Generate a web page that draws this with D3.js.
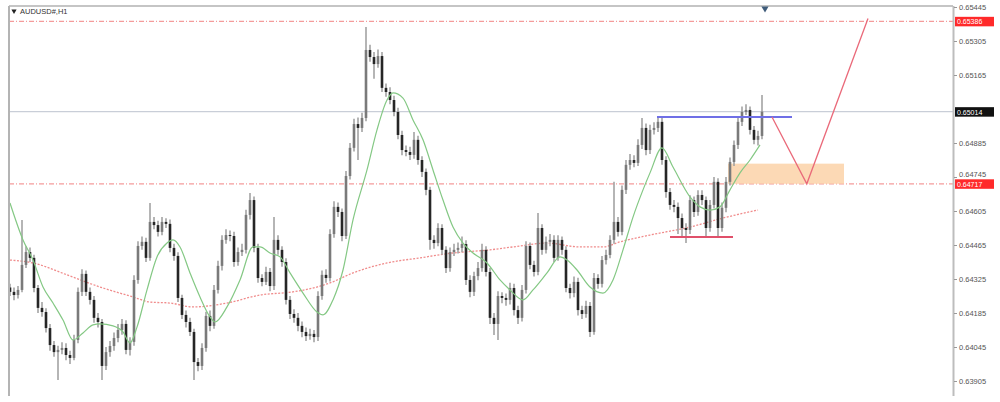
<!DOCTYPE html>
<html><head><meta charset="utf-8">
<script src="https://cdn.jsdelivr.net/npm/d3@7"></script>
<style>html,body{margin:0;padding:0;background:#fff;}svg{display:block;font-family:"Liberation Sans",Arial,sans-serif;}</style>
</head><body><svg id="c" width="1000" height="402"></svg>
<script>
const symbolTitle = "AUDUSD#,H1";
const opens = [
0.64290,0.64272,0.64259,0.64280,0.64383,0.64436,0.64412,0.64288,0.64206,0.64189,
0.64123,0.64053,0.64024,0.64033,0.64041,0.64012,0.64000,0.64074,0.64272,0.64346,
0.64272,0.64239,0.64165,0.64148,0.63967,0.64024,0.64049,0.64082,0.64115,0.64140,
0.64033,0.64066,0.64321,0.64461,0.64478,0.64412,0.64560,0.64547,0.64519,0.64560,
0.64552,0.64453,0.64420,0.64247,0.64177,0.64148,0.64107,0.63983,0.63967,0.64041,
0.64173,0.64132,0.64280,0.64379,0.64486,0.64506,0.64502,0.64395,0.64436,0.64445,
0.64589,0.64650,0.64453,0.64329,0.64313,0.64354,0.64296,0.64486,0.64445,0.64395,
0.64239,0.64181,0.64165,0.64132,0.64107,0.64090,0.64099,0.64086,0.64255,0.64342,
0.64329,0.64510,0.64622,0.64601,0.64502,0.64749,0.64865,0.64963,0.64947,0.64988,
0.65268,0.65239,0.65210,0.65243,0.65112,0.65095,0.65062,0.65013,0.64918,0.64856,
0.64848,0.64836,0.64898,0.64815,0.64766,0.64692,0.64486,0.64473,0.64535,0.64445,
0.64370,0.64436,0.64445,0.64453,0.64469,0.64321,0.64272,0.64337,0.64370,0.64445,
0.64354,0.64165,0.64140,0.64255,0.64247,0.64239,0.64288,0.64197,0.64165,0.64280,
0.64461,0.64383,0.64354,0.64535,0.64445,0.64478,0.64486,0.64412,0.64486,0.64445,
0.64288,0.64267,0.64313,0.64197,0.64181,0.64214,0.64107,0.64329,0.64305,0.64403,
0.64424,0.64486,0.64560,0.64519,0.64692,0.64795,0.64815,0.64803,0.64877,0.64947,
0.64856,0.64939,0.64947,0.64972,0.64815,0.64683,0.64630,0.64622,0.64576,0.64535,
0.64527,0.64650,0.64601,0.64671,0.64650,0.64535,0.64630,0.64725,0.64535,0.64618,
0.64725,0.64807,0.64877,0.64972,0.65013,0.65021,0.64939,0.64898,0.64914];
const highs = [
0.64305,0.64290,0.64296,0.64568,0.64460,0.64455,0.64425,0.64300,0.64230,0.64205,
0.64140,0.64070,0.64050,0.64065,0.64060,0.64030,0.64095,0.64290,0.64365,0.64360,
0.64290,0.64255,0.64185,0.64160,0.64045,0.64070,0.64105,0.64140,0.64160,0.64155,
0.64085,0.64340,0.64480,0.64500,0.64495,0.64638,0.64580,0.64565,0.64580,0.64575,
0.64570,0.64470,0.64435,0.64260,0.64195,0.64165,0.64120,0.64000,0.64060,0.64190,
0.64195,0.64300,0.64400,0.64505,0.64530,0.64525,0.64520,0.64455,0.64470,0.64610,
0.64679,0.64665,0.64470,0.64345,0.64375,0.64370,0.64580,0.64505,0.64460,0.64410,
0.64255,0.64200,0.64185,0.64150,0.64125,0.64120,0.64115,0.64275,0.64360,0.64365,
0.64530,0.64645,0.64640,0.64615,0.64770,0.64885,0.64985,0.64990,0.65010,0.65363,
0.65290,0.65260,0.65270,0.65260,0.65130,0.65115,0.65080,0.65030,0.64935,0.64875,
0.64870,0.64930,0.64915,0.64830,0.64780,0.64705,0.64505,0.64555,0.64550,0.64460,
0.64455,0.64470,0.64475,0.64500,0.64485,0.64340,0.64355,0.64395,0.64470,0.64460,
0.64370,0.64185,0.64275,0.64270,0.64265,0.64310,0.64305,0.64215,0.64300,0.64480,
0.64475,0.64400,0.64597,0.64550,0.64500,0.64510,0.64505,0.64505,0.64500,0.64460,
0.64305,0.64335,0.64330,0.64215,0.64235,0.64230,0.64350,0.64345,0.64420,0.64445,
0.64505,0.64725,0.64580,0.64710,0.64815,0.64840,0.64835,0.64900,0.64988,0.64965,
0.64960,0.64970,0.64995,0.64990,0.64830,0.64700,0.64650,0.64640,0.64595,0.64555,
0.64670,0.64665,0.64690,0.64690,0.64665,0.64650,0.64745,0.64740,0.64640,0.64745,
0.64825,0.64895,0.64990,0.65035,0.65045,0.65035,0.64955,0.64935,0.65083];
const lows = [
0.64255,0.64238,0.64245,0.64270,0.64370,0.64395,0.64270,0.64185,0.64170,0.64105,
0.64030,0.64005,0.63909,0.64015,0.63990,0.63975,0.63990,0.64060,0.64255,0.64255,
0.64220,0.64145,0.64125,0.63909,0.63950,0.64005,0.64030,0.64065,0.64095,0.64015,
0.64010,0.64050,0.64305,0.64445,0.64395,0.64400,0.64530,0.64500,0.64505,0.64535,
0.64435,0.64400,0.64230,0.64160,0.64125,0.64090,0.63909,0.63945,0.63950,0.64025,
0.64110,0.64120,0.64265,0.64360,0.64470,0.64480,0.64375,0.64380,0.64420,0.64430,
0.64570,0.64435,0.64310,0.64295,0.64300,0.64275,0.64280,0.64425,0.64375,0.64220,
0.64160,0.64145,0.64110,0.64085,0.64070,0.64075,0.64065,0.64070,0.64240,0.64310,
0.64315,0.64495,0.64580,0.64480,0.64490,0.64735,0.64850,0.64815,0.64930,0.64975,
0.65220,0.65150,0.65195,0.65095,0.65075,0.65045,0.64995,0.64900,0.64835,0.64830,
0.64815,0.64820,0.64795,0.64745,0.64670,0.64445,0.64450,0.64460,0.64425,0.64350,
0.64355,0.64420,0.64430,0.64435,0.64300,0.64250,0.64255,0.64320,0.64355,0.64335,
0.64140,0.64094,0.64074,0.64225,0.64215,0.64220,0.64175,0.64140,0.64150,0.64265,
0.64365,0.64335,0.64340,0.64425,0.64430,0.64460,0.64395,0.64400,0.64425,0.64270,
0.64245,0.64250,0.64175,0.64160,0.64165,0.64086,0.64095,0.64285,0.64290,0.64385,
0.64410,0.64470,0.64500,0.64505,0.64675,0.64775,0.64785,0.64790,0.64860,0.64835,
0.64840,0.64920,0.64930,0.64795,0.64660,0.64610,0.64600,0.64510,0.64500,0.64473,
0.64510,0.64580,0.64585,0.64630,0.64498,0.64520,0.64615,0.64498,0.64520,0.64600,
0.64710,0.64790,0.64860,0.64955,0.65000,0.64920,0.64880,0.64875,0.64900];
const closes = [
0.64272,0.64259,0.64280,0.64383,0.64436,0.64412,0.64288,0.64206,0.64189,0.64123,
0.64053,0.64024,0.64033,0.64041,0.64012,0.64000,0.64074,0.64272,0.64346,0.64272,
0.64239,0.64165,0.64148,0.63967,0.64024,0.64049,0.64082,0.64115,0.64140,0.64033,
0.64066,0.64321,0.64461,0.64478,0.64412,0.64560,0.64547,0.64519,0.64560,0.64552,
0.64453,0.64420,0.64247,0.64177,0.64148,0.64107,0.63983,0.63967,0.64041,0.64173,
0.64132,0.64280,0.64379,0.64486,0.64506,0.64502,0.64395,0.64436,0.64445,0.64589,
0.64650,0.64453,0.64329,0.64313,0.64354,0.64296,0.64486,0.64445,0.64395,0.64239,
0.64181,0.64165,0.64132,0.64107,0.64090,0.64099,0.64086,0.64255,0.64342,0.64329,
0.64510,0.64622,0.64601,0.64502,0.64749,0.64865,0.64963,0.64947,0.64988,0.65268,
0.65239,0.65210,0.65243,0.65112,0.65095,0.65062,0.65013,0.64918,0.64856,0.64848,
0.64836,0.64898,0.64815,0.64766,0.64692,0.64486,0.64473,0.64535,0.64445,0.64370,
0.64436,0.64445,0.64453,0.64469,0.64321,0.64272,0.64337,0.64370,0.64445,0.64354,
0.64165,0.64140,0.64255,0.64247,0.64239,0.64288,0.64197,0.64165,0.64280,0.64461,
0.64383,0.64354,0.64535,0.64445,0.64478,0.64486,0.64412,0.64486,0.64445,0.64288,
0.64267,0.64313,0.64197,0.64181,0.64214,0.64107,0.64329,0.64305,0.64403,0.64424,
0.64486,0.64560,0.64519,0.64692,0.64795,0.64815,0.64803,0.64877,0.64947,0.64856,
0.64939,0.64947,0.64972,0.64815,0.64683,0.64630,0.64622,0.64576,0.64535,0.64527,
0.64650,0.64601,0.64671,0.64650,0.64535,0.64630,0.64725,0.64535,0.64618,0.64725,
0.64807,0.64877,0.64972,0.65013,0.65021,0.64939,0.64898,0.64914,0.65014];

// fast MA (green) : bar positions and values
const maFastBar = [0,3.25,5.75,8.25,10.75,13.25,15.75,18.25,20.75,22.5,25.75,28.25,30,31.75,34.25,36.75,39.25,40.75,42.5,45,47.5,50,51.25,54.25,57.5,60.75,62.5,65,67.5,70,73.25,76.75,78.25,80.75,83.25,85.75,89.25,91.75,94.25,95.75,98.25,100.75,103.25,105.75,108.25,110.75,113.25,115.75,119.25,122.5,125,128.25,130.75,134.25,137.5,139.25,141.75,145,148.25,150.75,153.25,155.75,158.25,160,163,165.75,170,172.5,175,177.5,180,182.5,185,187.5];
const maFastVal = [0.64638,0.64486,0.64403,0.64292,0.64226,0.64156,0.64074,0.64103,0.64136,0.64140,0.64132,0.64107,0.64062,0.64127,0.64280,0.64416,0.64473,0.64486,0.64457,0.64350,0.64251,0.64169,0.64148,0.64210,0.64321,0.64457,0.64457,0.64432,0.64416,0.64350,0.64267,0.64189,0.64177,0.64239,0.64362,0.64568,0.64774,0.64939,0.65062,0.65091,0.65070,0.64980,0.64898,0.64774,0.64650,0.64539,0.64473,0.64432,0.64391,0.64321,0.64280,0.64239,0.64280,0.64350,0.64416,0.64403,0.64362,0.64292,0.64267,0.64321,0.64445,0.64580,0.64692,0.64762,0.64865,0.64786,0.64663,0.64622,0.64609,0.64622,0.64692,0.64762,0.64815,0.64877];
// slow MA (red dotted)
const maSlowBar = [0,5.75,14.25,22.5,30.75,35,40,45.75,54.25,62.5,70.75,76.75,80,85.75,94.25,102.5,110.75,120,125.75,134.25,142.5,148.25,152.5,160,170,178.25,187];
const maSlowVal = [0.64403,0.64391,0.64342,0.64292,0.64251,0.64230,0.64226,0.64210,0.64226,0.64259,0.64272,0.64292,0.64309,0.64350,0.64391,0.64412,0.64432,0.64445,0.64457,0.64473,0.64457,0.64457,0.64478,0.64506,0.64539,0.64576,0.64609];

const tickValues = [0.65445,0.65305,0.65165,0.64885,0.64745,0.64605,0.64465,0.64325,0.64185,0.64045,0.63905];
const levelPrices = [0.65386, 0.64717];
const bidPrice = 0.65014;
// drawn objects (bar positions, prices)
const resistanceLine = [161.75, 195.5, 0.64992];
const supportLine = [165, 180.75, 0.64498];
const zoneBars = [179.5, 208.5];
const zonePrices = [0.64717, 0.64800];
const pathBars = [190.5, 199.2, 214.5];
const pathPrices = [0.64992, 0.64717, 0.65398];

const svg = d3.select("#c");
svg.append("rect").attr("width",1000).attr("height",402).attr("fill","#fff");

const x = d3.scaleLinear().domain([0, closes.length-1]).range([10, 762]);
const y = d3.scaleLinear().domain([0.63905, 0.65445]).range([381, 7]);
const L = 9, R = 953, T = 6, B = 402;

svg.append("clipPath").attr("id","clip").append("rect").attr("x",L).attr("y",T).attr("width",R-L).attr("height",B-T);
const plot = svg.append("g").attr("clip-path","url(#clip)");

// bid line
plot.append("line").attr("x1",L).attr("x2",R).attr("y1",y(bidPrice)).attr("y2",y(bidPrice))
  .attr("stroke","#c9ced8").attr("stroke-width",1.2);
// levels
plot.selectAll(".lvl").data(levelPrices).enter().append("line")
  .attr("x1",L).attr("x2",R).attr("y1",d=>y(d)).attr("y2",d=>y(d))
  .attr("stroke","#f07070").attr("stroke-opacity",0.7).attr("stroke-width",1.2).attr("stroke-dasharray","5,2,1,2");

// zone
plot.append("rect").attr("x",x(zoneBars[0])).attr("width",x(zoneBars[1])-x(zoneBars[0]))
  .attr("y",y(zonePrices[1])).attr("height",y(zonePrices[0])-y(zonePrices[1]))
  .attr("fill","#fbd2a8").attr("fill-opacity",0.85);

// slow MA
plot.append("path").datum(maSlowBar.map((b,i)=>[b,maSlowVal[i]]))
  .attr("d",d3.line().x(d=>x(d[0])).y(d=>y(d[1])).curve(d3.curveMonotoneX))
  .attr("fill","none").attr("stroke","#f08c8c").attr("stroke-width",1.3).attr("stroke-dasharray","2,1.5");

// candles
const idx = d3.range(closes.length);
const cg = plot.append("g");
cg.selectAll(".wick").data(idx).enter().append("line")
  .attr("x1",i=>x(i)).attr("x2",i=>x(i)).attr("y1",i=>y(highs[i])).attr("y2",i=>y(lows[i]))
  .attr("stroke","#a3a3a3").attr("stroke-width",1.6);
cg.selectAll(".body").data(idx).enter().append("rect")
  .attr("x",i=>x(i)-1.3).attr("width",2.6)
  .attr("y",i=>y(Math.max(opens[i],closes[i])))
  .attr("height",i=>Math.max(1,Math.abs(y(opens[i])-y(closes[i]))))
  .attr("fill",i=>closes[i]>=opens[i]?"#7a7a7a":"#262626");

// fast MA
plot.append("path").datum(maFastBar.map((b,i)=>[b,maFastVal[i]]))
  .attr("d",d3.line().x(d=>x(d[0])).y(d=>y(d[1])).curve(d3.curveMonotoneX))
  .attr("fill","none").attr("stroke","#84c884").attr("stroke-width",1.2);

// drawn lines
plot.append("line").attr("x1",x(resistanceLine[0])).attr("x2",x(resistanceLine[1]))
  .attr("y1",y(resistanceLine[2])).attr("y2",y(resistanceLine[2])).attr("stroke","#6f6fe6").attr("stroke-width",2);
plot.append("line").attr("x1",x(supportLine[0])).attr("x2",x(supportLine[1]))
  .attr("y1",y(supportLine[2])).attr("y2",y(supportLine[2])).attr("stroke","#e0506a").attr("stroke-width",2);
plot.append("path").datum(pathBars.map((b,i)=>[b,pathPrices[i]]))
  .attr("d",d3.line().x(d=>x(d[0])).y(d=>y(d[1])))
  .attr("fill","none").attr("stroke","#ea6a7a").attr("stroke-width",1.3);

// frame
svg.append("line").attr("x1",L).attr("x2",R).attr("y1",T).attr("y2",T).attr("stroke","#8c8c8c").attr("stroke-width",1.2);
svg.append("line").attr("x1",L).attr("x2",L).attr("y1",T).attr("y2",396).attr("stroke","#b4b4b4").attr("stroke-width",2);
svg.append("line").attr("x1",R+0.5).attr("x2",R+0.5).attr("y1",T).attr("y2",396).attr("stroke","#bdbdbd").attr("stroke-width",2);

// top marker
svg.append("path").attr("d",d3.symbol().type(d3.symbolTriangle).size(22)()).attr("transform",`translate(765,${T+2.5}) rotate(180)`).attr("fill","#3f5c7a");

// title
svg.append("path").attr("d",d3.symbol().type(d3.symbolTriangle).size(12)()).attr("transform","translate(14,11) rotate(180)").attr("fill","#222");
svg.append("text").attr("x",20).attr("y",14).attr("font-size",7.5).attr("fill","#333").text(symbolTitle);

// axis
const axis = d3.axisRight(y).tickValues(tickValues).tickFormat(d3.format(".5f")).tickSize(3).tickPadding(2);
const ag = svg.append("g").attr("transform",`translate(${R+1},0)`).call(axis);
ag.select(".domain").remove();
ag.selectAll("line").attr("stroke","#999");
ag.selectAll("text").attr("font-size",7.5).attr("fill","#555").attr("font-family","'Liberation Sans',Arial,sans-serif")
  .attr("dy", d => d === 0.64745 ? "-0.05em" : "0.32em");

// price tags
const tags = [{p:levelPrices[0],c:"#ff2a2a"},{p:bidPrice,c:"#111"},{p:levelPrices[1],c:"#ff2a2a"}];
const tg = svg.selectAll(".tag").data(tags).enter().append("g");
tg.append("rect").attr("x",R+2).attr("width",39).attr("y",d=>y(d.p)-4.5).attr("height",9.5).attr("fill",d=>d.c);
tg.append("text").attr("x",R+4).attr("y",d=>y(d.p)+3).attr("font-size",7).attr("fill","#fff").text(d=>d3.format(".5f")(d.p));
</script></body></html>
